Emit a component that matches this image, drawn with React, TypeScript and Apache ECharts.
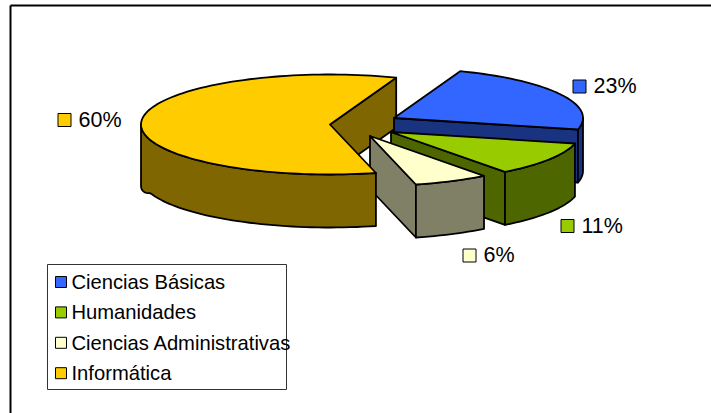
import React, { useEffect, useRef } from "react";
import * as echarts from "echarts";

const categories = ["Ciencias Básicas", "Humanidades", "Ciencias Administrativas", "Informática"];
const shares = [23, 11, 6.4, 59.6];
const topColors = ["#3366FF", "#99CC00", "#FFFFCC", "#FFCC00"];
const wallColors = ["#1A3380", "#4D6600", "#808066", "#806600"];

const START_ANGLE = 69.5;
const RX = 189;
const RY = 50;
const DEPTH = 53;
const FONT = "Liberation Sans";
// slice centres once exploded, and where each percentage key sits
const centres = [[394, 118], [391, 132], [370, 136], [330, 124.5]];
const keys = [[573, 80], [561, 219.5], [463, 249], [58, 113.5]];

const rad = (d: number) => (d * Math.PI) / 180;

function sliceAngles(i: number) {
  const before = shares.slice(0, i).reduce((a, b) => a + b, 0);
  const from = START_ANGLE - (before / 100) * 360;
  return [from, from - (shares[i] / 100) * 360];
}

function depthAt(deg: number) {
  const c = Math.cos(rad(deg));
  return DEPTH + 8 * Math.max(0, (-c - 0.95) / 0.05);
}

function rim(i: number, deg: number) {
  const [cx, cy] = centres[i];
  return [cx + RX * Math.cos(rad(deg)), cy - RY * Math.sin(rad(deg))];
}

function arc(i: number, from: number, to: number) {
  const pts: number[][] = [];
  const n = Math.max(2, Math.ceil(Math.abs(from - to) / 2));
  for (let k = 0; k <= n; k++) pts.push(rim(i, from + ((to - from) * k) / n));
  return pts;
}

function poly(points: number[][], fill: string) {
  return {
    type: "polygon",
    shape: { points },
    style: { fill, stroke: "#000", lineWidth: 1.8, lineJoin: "round" },
    silent: true,
  };
}

function backWall(i: number) {
  const edgeAngle = sliceAngles(i)[1];
  const apex = centres[i];
  const edge = rim(i, edgeAngle);
  return poly(
    [apex, edge, [edge[0], edge[1] + DEPTH - 3], [apex[0], apex[1] + DEPTH - 3]],
    wallColors[i]
  );
}

function outerWall(i: number, from: number, to: number) {
  const top = arc(i, from, to);
  const bottom = arc(i, to, from).map((p, k, all) => {
    const deg = to + ((from - to) * k) / (all.length - 1);
    return [p[0], p[1] + depthAt(deg)];
  });
  return poly([...top, ...bottom], wallColors[i]);
}

function innerWall(i: number, deg: number) {
  const apex = centres[i];
  const edge = rim(i, deg);
  return poly(
    [apex, edge, [edge[0], edge[1] + DEPTH], [apex[0], apex[1] + DEPTH]],
    wallColors[i]
  );
}

function label(i: number, value: number) {
  const [x, y] = keys[i];
  return [
    {
      type: "rect",
      shape: { x, y, width: 13, height: 13 },
      style: { fill: topColors[i], stroke: "#000", lineWidth: 1 },
      silent: true,
    },
    {
      type: "text",
      style: {
        x: x + 20.5,
        y: y + 6,
        text: `${Math.round(value)}%`,
        font: `21.5px "${FONT}"`,
        fill: "#000",
        textAlign: "left",
        textVerticalAlign: "middle",
      },
      silent: true,
    },
  ];
}

function renderSlice(i: number) {
  return (_params: any, api: any) => {
    const value = api.value(0);
    const [from, to] = sliceAngles(i);
    const top = poly([centres[i], ...arc(i, from, to)], topColors[i]);
    const children: any[] = [];
    if (i === 3) {
      children.push(outerWall(i, from, -180));
    } else {
      children.push(innerWall(i, to), outerWall(i, Math.min(from, 0), to));
    }
    children.push(top, ...label(i, value));
    return { type: "group", children };
  };
}

function renderYellowBack(_params: any, _api: any) {
  return { type: "group", children: [backWall(3)] };
}

function customSeries(i: number) {
  return {
    type: "custom",
    name: categories[i],
    coordinateSystem: "none",
    renderItem: renderSlice(i),
    itemStyle: { color: topColors[i] },
    data: [[shares[i]]],
    silent: true,
  };
}

export default function App() {
  const ref = useRef<HTMLDivElement>(null);
  useEffect(() => {
    const chart = echarts.init(ref.current!, undefined, { renderer: "svg" });
    chart.setOption({
      animation: false,
      backgroundColor: "#fff",
      textStyle: { fontFamily: FONT },
      legend: {
        show: true,
        orient: "vertical",
        left: 55,
        top: 272,
        padding: 0,
        icon: "rect",
        itemWidth: 11,
        itemHeight: 11,
        itemGap: 10.4,
        selectedMode: false,
        data: categories,
        textStyle: { fontFamily: FONT, fontSize: 20.2, color: "#000" },
        itemStyle: { borderColor: "#000", borderWidth: 1 },
      },
      graphic: [
        {
          type: "line",
          shape: { x1: 10.5, y1: 5.5, x2: 711, y2: 5.5 },
          style: { stroke: "#000", lineWidth: 2 },
          silent: true,
        },
        {
          type: "line",
          shape: { x1: 10.5, y1: 5.5, x2: 10.5, y2: 413 },
          style: { stroke: "#000", lineWidth: 2 },
          silent: true,
        },
        {
          type: "rect",
          shape: { x: 47.5, y: 264.5, width: 239, height: 125 },
          style: { fill: "none", stroke: "#333", lineWidth: 1 },
          silent: true,
        },
      ],
      series: [
        {
          type: "custom",
          name: categories[3],
          coordinateSystem: "none",
          renderItem: renderYellowBack,
          itemStyle: { color: topColors[3] },
          data: [[shares[3]]],
          silent: true,
        },
        customSeries(0),
        customSeries(1),
        customSeries(2),
        customSeries(3),
      ],
    });
    return () => chart.dispose();
  }, []);
  return (
    <div
      ref={ref}
      style={{ position: "fixed", left: 0, top: 0, width: 711, height: 413 }}
    />
  );
}
